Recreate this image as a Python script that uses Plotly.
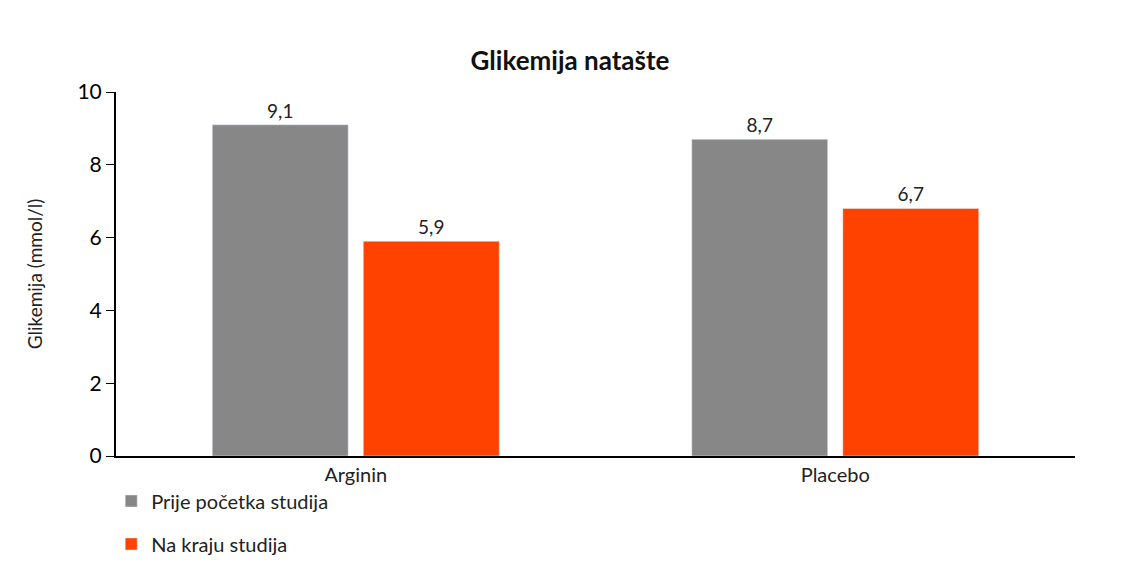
import plotly.graph_objects as go

categories = ["Arginin", "Placebo"]
before = [9.1, 8.7]
after = [5.9, 6.8]
before_labels = ["9,1", "8,7"]
after_labels = ["5,9", "6,7"]
series_names = ["Prije početka studija", "Na kraju studija"]

font = "Lato"
fig = go.Figure()
fig.add_bar(x=categories, y=before, name=series_names[0], marker_color="#878787", legendgroup="a",
            text=before_labels, textposition="outside", textfont=dict(size=19, color="#222"))
fig.add_bar(x=categories, y=after, name=series_names[1], marker_color="#FF4200", legendgroup="b",
            text=after_labels, textposition="outside", textfont=dict(size=19, color="#222"))

fig.update_layout(
    width=1124, height=588, plot_bgcolor="white", paper_bgcolor="white",
    margin=dict(l=108, r=57, t=84, b=140),
    font=dict(family=font, size=18, color="#222"),
    title=dict(text="<b>Glikemija natašte</b>", x=0.5, xanchor="center", y=0.91, yanchor="middle",
               font=dict(size=26, color="#111")),
    bargap=0.37, bargroupgap=0.1,
    legend=dict(orientation="v", x=-0.005, xanchor="left", y=-0.07, yanchor="top",
                font=dict(size=20), tracegroupgap=14),
    xaxis=dict(showline=True, linecolor="black", linewidth=2, ticks="", tickfont=dict(size=20)),
    yaxis=dict(range=[0, 10], dtick=2, showline=True, linecolor="black", linewidth=2,
               ticks="outside", tickcolor="black", ticklen=8, showgrid=False, zeroline=False,
               tickfont=dict(size=21, color="black"),
               title=dict(text="Glikemija (mmol/l)", font=dict(size=19), standoff=30)),
)
fig.write_html("out.html")
